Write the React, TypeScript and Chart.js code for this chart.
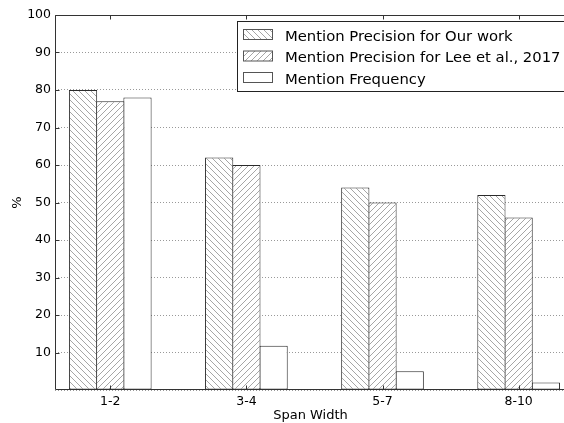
import { useEffect, useRef } from "react";
import { Chart, registerables } from "chart.js";

Chart.register(...registerables);

const categories = ["1-2", "3-4", "5-7", "8-10"];
const ourWork = [80, 62, 54, 52];
const lee2017 = [77, 60, 50, 46];
const frequency = [78, 11.8, 5, 2];
const yTickValues = [10, 20, 30, 40, 50, 60, 70, 80, 90, 100];
const seriesNames = [
  "Mention Precision for Our work",
  "Mention Precision for Lee et al., 2017",
  "Mention Frequency",
];
const hatchKinds = ["back", "fwd", "none"];

const FONT = "'DejaVu Sans', 'Liberation Sans', sans-serif";

function makeHatch(ctx: CanvasRenderingContext2D, kind: string) {
  const c = document.createElement("canvas");
  c.width = 6;
  c.height = 6;
  const g = c.getContext("2d")!;
  g.fillStyle = "#ffffff";
  g.fillRect(0, 0, 6, 6);
  if (kind !== "none") {
    g.strokeStyle = "#a6a6a6";
    g.lineWidth = 1;
    g.beginPath();
    for (const o of [-6, 0, 6]) {
      if (kind === "back") {
        g.moveTo(o, 0);
        g.lineTo(o + 6, 6);
      } else {
        g.moveTo(o, 6);
        g.lineTo(o + 6, 0);
      }
    }
    g.stroke();
  }
  return ctx.createPattern(c, "repeat")!;
}

export default function App() {
  const ref = useRef<HTMLCanvasElement | null>(null);

  useEffect(() => {
    const canvas = ref.current!;
    const ctx = canvas.getContext("2d")!;
    const patterns = hatchKinds.map((k) => makeHatch(ctx, k));
    const seriesValues = [ourWork, lee2017, frequency];

    const framePlugin = {
      id: "frame",
      afterDatasetsDraw(chart: any) {
        const c = chart.ctx as CanvasRenderingContext2D;
        const a = chart.chartArea;
        const xs = chart.scales.x;
        const ys = chart.scales.y;
        const L = Math.round(a.left) + 0.5;
        const T = Math.round(a.top) + 0.5;
        const B = Math.round(a.bottom) - 0.5;
        const R = Math.round(a.right) - 0.5;
        c.save();
        c.strokeStyle = "#333333";
        c.lineWidth = 1;
        c.beginPath();
        c.rect(L, T, R - L, B - T);
        c.stroke();
        c.beginPath();
        for (let i = 0; i < categories.length; i++) {
          const px = Math.round(xs.getPixelForValue(i)) + 0.5;
          c.moveTo(px, T);
          c.lineTo(px, T + 4);
          c.moveTo(px, B);
          c.lineTo(px, B - 4);
        }
        for (const v of yTickValues) {
          const py = Math.round(ys.getPixelForValue(v)) + 0.5;
          c.moveTo(L, py);
          c.lineTo(L + 4, py);
        }
        c.stroke();

        // legend
        const bx = 237.5, by = 21.5, bh = 70;
        c.fillStyle = "#ffffff";
        c.fillRect(bx, by, 400, bh);
        c.strokeStyle = "#222222";
        c.strokeRect(bx, by, 400, bh);
        const centers = [34.5, 56, 77.5];
        c.font = `14.8px ${FONT}`;
        c.textBaseline = "alphabetic";
        c.textAlign = "left";
        for (let i = 0; i < seriesNames.length; i++) {
          const cy = centers[i];
          c.fillStyle = patterns[i];
          c.fillRect(243.5, cy - 5, 29, 10);
          c.strokeStyle = "#555555";
          c.strokeRect(243.5, cy - 5, 29, 10);
          c.fillStyle = "#000000";
          c.fillText(seriesNames[i], 285, cy + 6);
        }
        c.restore();
      },
    };

    const chart = new Chart(ctx, {
      type: "bar",
      data: {
        datasets: seriesValues.map((vals, si) => ({
          label: seriesNames[si],
          data: vals.map((v, i) => ({ x: i, y: v })),
          backgroundColor: patterns[si],
          borderColor: "#2a2a2a",
          borderWidth: 1,
          borderSkipped: false,
          categoryPercentage: 0.6,
          barPercentage: 1.037,
        })),
      },
      options: {
        animation: false,
        responsive: false,
        maintainAspectRatio: false,
        devicePixelRatio: 1,
        layout: { padding: { top: 15, left: 0, right: 0, bottom: 0 } },
        plugins: {
          legend: { display: false },
          tooltip: { enabled: false },
          title: { display: false },
        },
        scales: {
          x: {
            type: "linear",
            min: -0.406,
            max: 3.348,
            offset: false,
            grid: { display: false, drawTicks: false },
            border: { display: false },
            afterBuildTicks: (scale: any) => {
              scale.ticks = categories.map((_, i) => ({ value: i }));
            },
            afterFit: (scale: any) => {
              scale.height = 33;
            },
            ticks: {
              autoSkip: false,
              maxRotation: 0,
              padding: 4,
              color: "#000000",
              font: { family: FONT, size: 12.5 },
              callback: (v: any) => categories[Math.round(Number(v))] ?? "",
            },
            title: {
              display: true,
              text: "Span Width",
              color: "#000000",
              font: { family: FONT, size: 13 },
              padding: { top: 1, bottom: 0 },
            },
          },
          y: {
            type: "linear",
            min: 0,
            max: 100,
            grid: {
              display: true,
              drawTicks: false,
              color: "#999999",
              lineWidth: 1,
            },
            border: { display: false, dash: [1, 2] },
            afterFit: (scale: any) => {
              scale.width = 55;
            },
            ticks: {
              stepSize: 10,
              padding: 4,
              color: "#000000",
              font: { family: FONT, size: 12.5 },
              callback: (v: any) => (Number(v) === 0 ? "" : String(v)),
            },
            title: {
              display: true,
              text: "%",
              color: "#000000",
              font: { family: FONT, size: 13 },
              padding: { top: 10, bottom: 0 },
            },
          },
        },
      },
      plugins: [framePlugin],
    } as any);

    return () => chart.destroy();
  }, []);

  return (
    <div
      style={{
        position: "fixed",
        left: 0,
        top: 0,
        width: 564,
        height: 423,
        overflow: "hidden",
        background: "#ffffff",
      }}
    >
      <canvas ref={ref} width={566} height={423} style={{ display: "block" }} />
    </div>
  );
}
